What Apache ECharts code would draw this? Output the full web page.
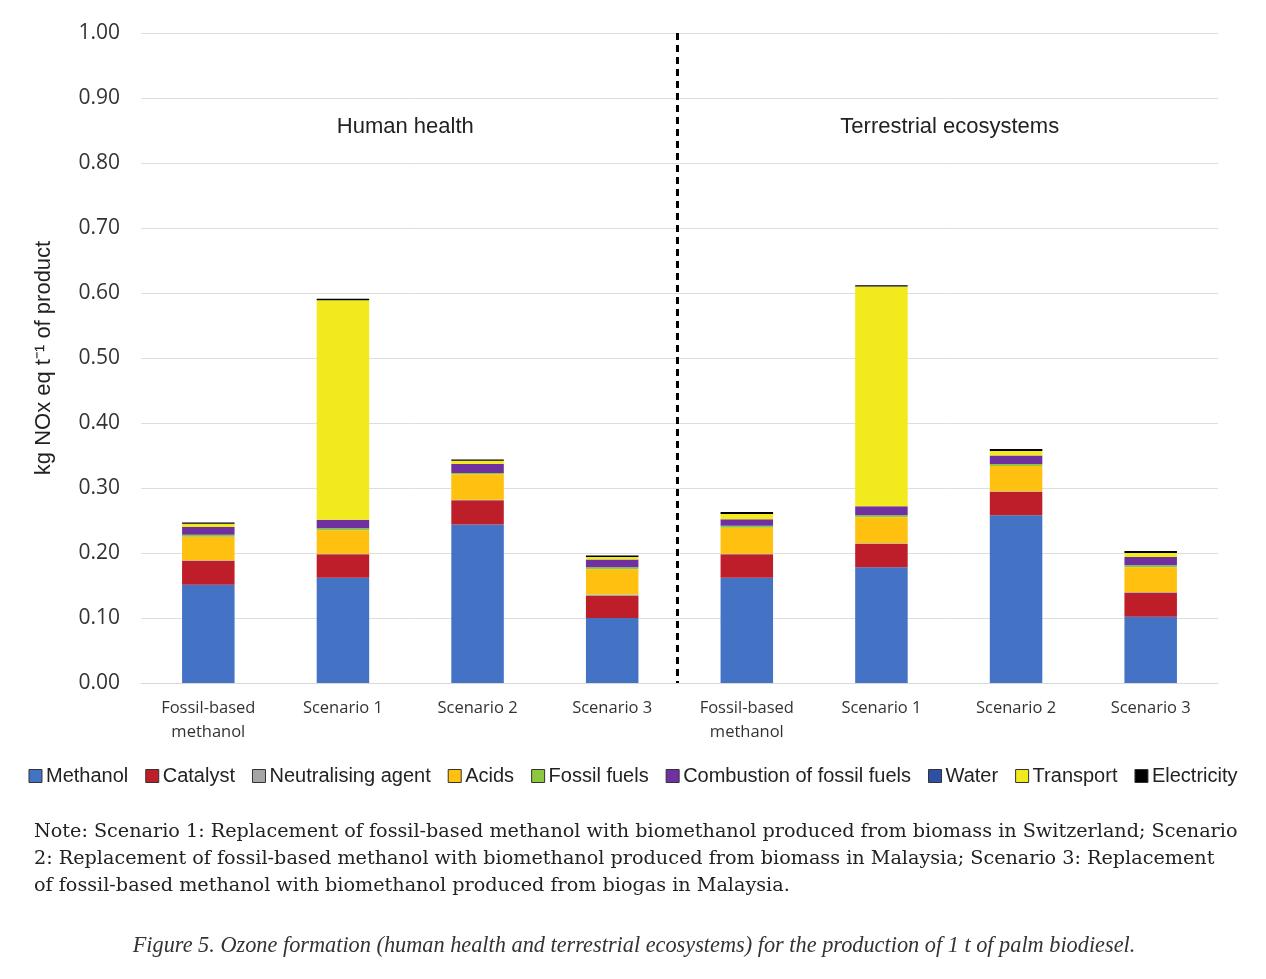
<!DOCTYPE html>
<html>
<head>
<meta charset="utf-8">
<script src="https://cdn.jsdelivr.net/npm/echarts@6/dist/echarts.min.js"></script>
<style>
  html, body { margin: 0; padding: 0; background: #fff; }
  #chart { width: 1266px; height: 979px; }
</style>
</head>
<body>
<div id="chart"></div>
<script>
// categories: 4 per impact group
var categories = ['Fossil-based\nmethanol', 'Scenario 1', 'Scenario 2', 'Scenario 3',
                  'Fossil-based\nmethanol', 'Scenario 1', 'Scenario 2', 'Scenario 3'];
var groups = ['Human health', 'Terrestrial ecosystems'];
var yTicks = [0, 0.1, 0.2, 0.3, 0.4, 0.5, 0.6, 0.7, 0.8, 0.9, 1.0];

// stacked contributions, kg NOx eq / t
var methanol     = [0.151, 0.162, 0.244, 0.100, 0.162, 0.178, 0.258, 0.102];
var catalyst     = [0.037, 0.036, 0.037, 0.034, 0.036, 0.036, 0.036, 0.037];
var neutralising = [0.001, 0.001, 0.001, 0.002, 0.001, 0.001, 0.001, 0.001];
var acids        = [0.036, 0.036, 0.039, 0.039, 0.040, 0.040, 0.039, 0.038];
var fossilFuels  = [0.003, 0.003, 0.002, 0.003, 0.003, 0.003, 0.003, 0.003];
var combustion   = [0.012, 0.013, 0.014, 0.012, 0.010, 0.014, 0.013, 0.013];
var water        = [0, 0, 0, 0, 0, 0, 0, 0];
var transport    = [0.005, 0.338, 0.005, 0.004, 0.008, 0.338, 0.007, 0.006];
var electricity  = [0.002, 0.002, 0.002, 0.002, 0.003, 0.002, 0.003, 0.003];

var seriesNames = ['Methanol', 'Catalyst', 'Neutralising agent', 'Acids', 'Fossil fuels',
                   'Combustion of fossil fuels', 'Water', 'Transport', 'Electricity'];
var seriesData = [methanol, catalyst, neutralising, acids, fossilFuels,
                  combustion, water, transport, electricity];
var colors = ['#4472C4', '#BE1E2A', '#A5A5A5', '#FFC010', '#8DC63F',
              '#7030A0', '#2F4FA6', '#F2EA1C', '#000000'];

var noteLines = [
  'Note: Scenario 1: Replacement of fossil-based methanol with biomethanol produced from biomass in Switzerland; Scenario',
  '2: Replacement of fossil-based methanol with biomethanol produced from biomass in Malaysia; Scenario 3: Replacement',
  'of fossil-based methanol with biomethanol produced from biogas in Malaysia.'
];
var caption = 'Figure 5. Ozone formation (human health and terrestrial ecosystems) for the production of 1 t of palm biodiesel.';

var series = seriesNames.map(function (name, i) {
  return {
    name: name,
    type: 'bar',
    stack: 'total',
    barWidth: '39%',
    itemStyle: { color: colors[i] },
    data: seriesData[i]
  };
});

var option = {
  animation: false,
  color: colors,
  grid: { left: 141, right: 48, top: 33, bottom: 296 },
  legend: {
    data: seriesNames,
    top: 761,
    left: 'center',
    itemWidth: 13,
    itemHeight: 13,
    itemGap: 17,
    icon: 'rect',
    itemStyle: { borderColor: '#333', borderWidth: 1 },
    textStyle: { fontFamily: 'Liberation Sans', fontSize: 20, color: '#222', padding: [0, 0, 0, -1] }
  },
  xAxis: {
    type: 'category',
    data: categories,
    axisLine: { lineStyle: { color: '#d9d9d9', width: 1 } },
    axisTick: { show: false },
    axisLabel: {
      fontFamily: 'Open Sans',
      fontSize: 16.5,
      color: '#333',
      lineHeight: 24,
      margin: 13
    }
  },
  yAxis: {
    type: 'value',
    min: yTicks[0],
    max: yTicks[yTicks.length - 1],
    interval: 0.1,
    name: 'kg NOx eq t\u207B\u00B9 of product',
    nameLocation: 'middle',
    nameGap: 86,
    nameRotate: 90,
    nameTextStyle: { fontFamily: 'Liberation Sans', fontSize: 22, color: '#222' },
    axisLine: { show: false },
    axisTick: { show: false },
    splitLine: { lineStyle: { color: '#dedede', width: 1 } },
    axisLabel: {
      fontFamily: 'Open Sans',
      fontSize: 21,
      color: '#333',
      margin: 21,
      formatter: function (v) { return v.toFixed(2); }
    }
  },
  series: series
};

var chart = echarts.init(document.getElementById('chart'));
chart.setOption(option);

// divider, group titles and notes placed from the axis scales
var px = function (i) { return chart.convertToPixel({ xAxisIndex: 0 }, i); };
var yTop = chart.convertToPixel({ yAxisIndex: 0 }, 1.0);
var yBot = chart.convertToPixel({ yAxisIndex: 0 }, 0);
var yTitle = chart.convertToPixel({ yAxisIndex: 0 }, 0.855);
var divX = (px(3) + px(4)) / 2 - 2;

var graphics = [
  {
    type: 'line',
    shape: { x1: divX, y1: yTop, x2: divX, y2: yBot },
    style: { stroke: '#000', lineWidth: 3, lineDash: [7, 5] },
    z: 10
  },
  {
    type: 'text', x: (px(1) + px(2)) / 2 - 5, y: yTitle,
    style: { text: groups[0], fontFamily: 'Liberation Sans', fontSize: 22, fill: '#222',
             textAlign: 'center', textVerticalAlign: 'middle' }
  },
  {
    type: 'text', x: (px(5) + px(6)) / 2 + 1, y: yTitle,
    style: { text: groups[1], fontFamily: 'Liberation Sans', fontSize: 22, fill: '#222',
             textAlign: 'center', textVerticalAlign: 'middle' }
  }
];
noteLines.forEach(function (line, i) {
  graphics.push({
    type: 'text', x: 34, y: 832 + i * 27,
    style: { text: line, fontFamily: 'DejaVu Serif', fontSize: 19.2, fill: '#222',
             textAlign: 'left', textVerticalAlign: 'middle' }
  });
});
graphics.push({
  type: 'text', x: 634, y: 946,
  style: { text: caption, fontFamily: 'Liberation Serif', fontStyle: 'italic', fontSize: 22.3,
           fill: '#333', textAlign: 'center', textVerticalAlign: 'middle' }
});
chart.setOption({ graphic: graphics });
</script>
</body>
</html>
